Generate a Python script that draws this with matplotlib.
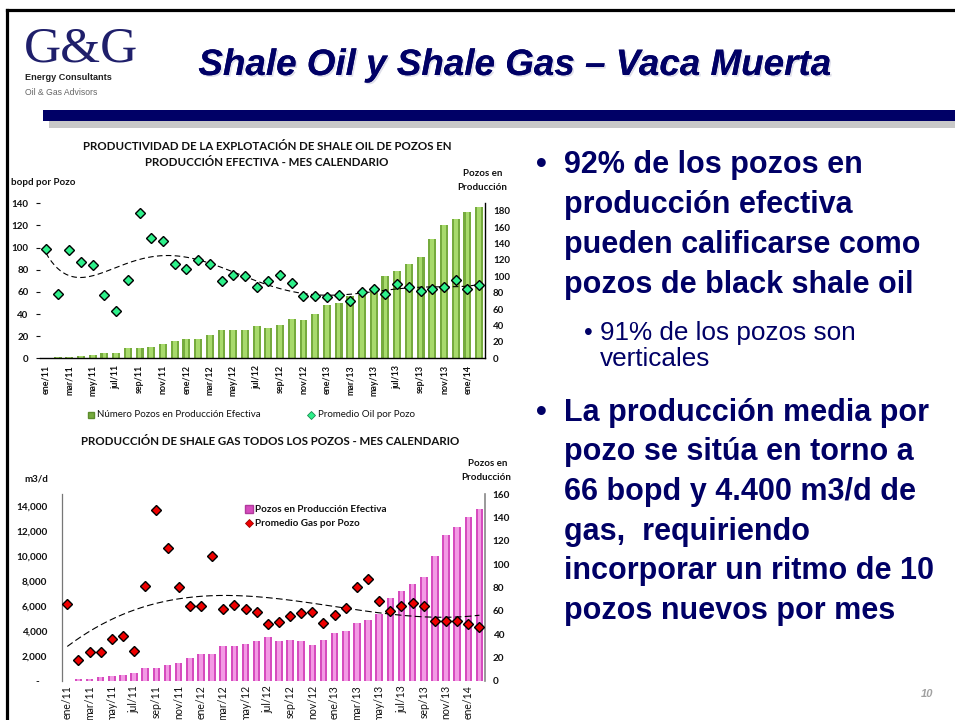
import matplotlib
matplotlib.use('Agg')
import matplotlib.pyplot as plt
import numpy as np
from matplotlib.lines import Line2D
from matplotlib.patches import Rectangle
import matplotlib.patheffects as pe
from matplotlib.ticker import FuncFormatter

# ---------------- data ----------------
months = ['ene/11', 'feb/11', 'mar/11', 'abr/11', 'may/11', 'jun/11', 'jul/11', 'ago/11',
          'sep/11', 'oct/11', 'nov/11', 'dic/11', 'ene/12', 'feb/12', 'mar/12', 'abr/12',
          'may/12', 'jun/12', 'jul/12', 'ago/12', 'sep/12', 'oct/12', 'nov/12', 'dic/12',
          'ene/13', 'feb/13', 'mar/13', 'abr/13', 'may/13', 'jun/13', 'jul/13', 'ago/13',
          'sep/13', 'oct/13', 'nov/13', 'dic/13', 'ene/14', 'feb/14']

oil_wells = [0, 2, 2, 3, 4, 6, 7, 13, 13, 14, 17, 21, 24, 24, 28, 34, 34, 34, 39, 37,
             41, 48, 47, 54, 65, 67, 76, 77, 84, 100, 106, 115, 123, 145, 163, 170, 178, 184]
oil_avg = [99, 58, 98, 87, 84, 57, 43, 71, 131, 109, 106, 85, 81, 89, 85, 70, 75, 74, 64, 70,
           75, 68, 56, 56, 55, 57, 52, 60, 63, 58, 67, 64, 61, 63, 64, 71, 63, 66]

gas_wells = [0, 2, 2, 3, 4, 5, 7, 11, 11, 14, 15, 20, 23, 23, 30, 30, 32, 34, 38, 34,
             35, 34, 31, 35, 41, 43, 50, 52, 57, 71, 77, 83, 89, 107, 125, 132, 140, 147]
gas_avg = [6200, 1650, 2300, 2300, 3330, 3600, 2430, 7600, 13700, 10700, 7550, 6000, 6000,
           10000, 5760, 6080, 5810, 5520, 4560, 4770, 5230, 5490, 5520, 4670, 5280, 5840,
           7550, 8210, 6400, 5600, 6030, 6290, 6050, 4830, 4800, 4830, 4610, 4320]

tick_labels = months[::2]

# ---------------- helpers ----------------
W, H = 955, 720
def fx(x):
    return x / W
def fy(y):
    return 1 - y / H

NAVY = '#000066'
CH = 'Lato'
TXT = '#111111'

fig = plt.figure(figsize=(9.55, 7.2), dpi=100)
fig.patch.set_facecolor('white')

# slide frame
fig.add_artist(Line2D([fx(7), fx(955)], [fy(9.5), fy(9.5)], color='black', lw=2.3,
                      transform=fig.transFigure))
fig.add_artist(Line2D([fx(7), fx(7)], [fy(9.5), fy(720)], color='black', lw=2.3,
                      transform=fig.transFigure))

# header bars
fig.add_artist(Rectangle((fx(49), fy(128)), fx(955) - fx(49), 7 / H, color='#c8c8c8',
                         transform=fig.transFigure, lw=0))
fig.add_artist(Rectangle((fx(43), fy(121)), fx(955) - fx(43), 11 / H, color=NAVY,
                         transform=fig.transFigure, lw=0))

# logo
fig.text(fx(24), fy(62), 'G&G', family='Liberation Serif', fontsize=37, color='#1f1f6b',
         va='baseline', ha='left')
fig.text(fx(25), fy(80), 'Energy Consultants', family='Liberation Sans', fontsize=6.6,
         color='#222222', fontweight='bold', va='baseline', ha='left')
fig.text(fx(25), fy(95), 'Oil & Gas Advisors', family='Liberation Sans', fontsize=6.2,
         color='#666666', va='baseline', ha='left')

# title
fig.text(fx(515), fy(75), 'Shale Oil y Shale Gas \u2013 Vaca Muerta', family='Liberation Sans',
         fontsize=26.5, fontweight='bold', fontstyle='italic', color=NAVY, ha='center',
         va='baseline',
         path_effects=[pe.withSimplePatchShadow(offset=(1.2, -1.2), shadow_rgbFace='#9999bb',
                                                alpha=0.3), pe.Normal()])

# right-hand bullet text
b1 = ['92% de los pozos en', 'producción efectiva', 'pueden calificarse como',
      'pozos de black shale oil']
for i, line in enumerate(b1):
    fig.text(fx(564), fy(173 + 40 * i), line, family='Liberation Sans', fontsize=22,
             fontweight='bold', color=NAVY, va='baseline', ha='left')
fig.text(fx(536), fy(173), '\u2022', family='Liberation Sans', fontsize=22, fontweight='bold',
         color=NAVY, va='baseline', ha='left')

fig.text(fx(584), fy(340), '\u2022', family='Liberation Sans', fontsize=18, color=NAVY,
         va='baseline', ha='left')
fig.text(fx(600), fy(340), '91% de los pozos son', family='Liberation Sans', fontsize=18.8,
         color=NAVY, va='baseline', ha='left')
fig.text(fx(600), fy(366), 'verticales', family='Liberation Sans', fontsize=18.8,
         color=NAVY, va='baseline', ha='left')

b2 = ['La producción media por', 'pozo se sitúa en torno a', '66 bopd y 4.400 m3/d de',
      'gas,  requiriendo', 'incorporar un ritmo de 10', 'pozos nuevos por mes']
for i, line in enumerate(b2):
    fig.text(fx(564), fy(420.7 + 39.7 * i), line, family='Liberation Sans', fontsize=22,
             fontweight='bold', color=NAVY, va='baseline', ha='left')
fig.text(fx(536), fy(420.7), '\u2022', family='Liberation Sans', fontsize=22,
         fontweight='bold', color=NAVY, va='baseline', ha='left')

fig.text(fx(921), fy(697), '10', family='Liberation Sans', fontsize=8, fontstyle='italic',
         fontweight='bold', color='#a0a0a0', va='baseline', ha='left')

x = np.arange(len(months))
xx = np.linspace(0, len(months) - 1, 300)

# ---------------- top chart ----------------
ax1 = fig.add_axes([fx(40), fy(358.3), (485 - 40) / W, (358.3 - 203.3) / H])
ax1r = ax1.twinx()
ax1r.bar(x, oil_wells, width=0.68, color='#76ab3e', zorder=2)
ax1r.bar(x, oil_wells, width=0.32, color='#a8da6c', zorder=3)
ax1.plot(x, oil_avg, ls='none', marker='D', ms=5.6, mfc='#2ef08a', mec='black', mew=1.0,
         zorder=5)
p1 = np.polynomial.Polynomial.fit(x, oil_avg, 6)
ax1.plot(xx, p1(xx), color='black', ls=(0, (5, 3)), lw=0.8, zorder=4)

ax1.set_zorder(ax1r.get_zorder() + 1)
ax1.patch.set_visible(False)
ax1.set_xlim(-0.5, len(months) - 0.5)
ax1.set_ylim(0, 140)
ax1r.set_ylim(0, 189)
ax1.set_yticks(range(0, 141, 20))
ax1r.set_yticks(range(0, 181, 20))
ax1.set_xticks(x[::2])
ax1.set_xticklabels(tick_labels, rotation=90, fontsize=6.4, fontweight='bold', family=CH,
                    color=TXT)
ax1.tick_params(axis='x', length=0, pad=4.8)
ax1.tick_params(axis='y', length=3, width=0.8, pad=5.2, labelsize=7, colors=TXT)
ax1r.tick_params(axis='y', length=0, pad=5.8, labelsize=7, colors=TXT)
for lbl in ax1.get_yticklabels() + ax1r.get_yticklabels():
    lbl.set_fontweight('bold')
    lbl.set_family(CH)
for s in ['left', 'top', 'right']:
    ax1.spines[s].set_visible(False)
ax1.spines['bottom'].set_linewidth(1.0)
for s in ['left', 'top', 'bottom']:
    ax1r.spines[s].set_visible(False)
ax1r.spines['right'].set_linewidth(1.0)

fig.text(fx(267), fy(146), 'PRODUCTIVIDAD DE LA EXPLOTACIÓN DE SHALE OIL DE POZOS EN',
         family=CH, fontsize=8.3, fontweight='bold', color=TXT, ha='center', va='center')
fig.text(fx(267), fy(163), 'PRODUCCIÓN EFECTIVA - MES CALENDARIO', family=CH, fontsize=8.3,
         fontweight='bold', color=TXT, ha='center', va='center')
fig.text(fx(11), fy(182.5), 'bopd por Pozo', family=CH, fontsize=7, fontweight='bold',
         color=TXT, ha='left', va='center')
fig.text(fx(483), fy(174), 'Pozos en', family=CH, fontsize=7, fontweight='bold', color=TXT,
         ha='center', va='center')
fig.text(fx(482), fy(187.5), 'Producción', family=CH, fontsize=7, fontweight='bold',
         color=TXT, ha='center', va='center')

# top legend
fig.add_artist(Line2D([fx(91)], [fy(415)], marker='s', ms=5, mfc='#76ab3e', mec='#5c8c2c',
                      ls='none', transform=fig.transFigure))
fig.text(fx(97), fy(415), 'Número Pozos en Producción Efectiva', family=CH, fontsize=7,
         color=TXT, ha='left', va='center')
fig.add_artist(Line2D([fx(311)], [fy(415)], marker='D', ms=4.5, mfc='#2ef08a', mec='#1a8a50',
                      mew=0.6, ls='none', transform=fig.transFigure))
fig.text(fx(318), fy(415), 'Promedio Oil por Pozo', family=CH, fontsize=7, color=TXT,
         ha='left', va='center')

# ---------------- bottom chart ----------------
ax2 = fig.add_axes([fx(61.7), fy(681), (485 - 61.7) / W, (681 - 494) / H])
ax2r = ax2.twinx()
ax2r.bar(x, gas_wells, width=0.68, color='#d64cbe', zorder=2)
ax2r.bar(x, gas_wells, width=0.32, color='#f39ae4', zorder=3)
ax2.plot(x, gas_avg, ls='none', marker='D', ms=5.6, mfc='#ee0000', mec='black', mew=1.0,
         zorder=5)
p2 = np.polynomial.Polynomial.fit(x, gas_avg, 3)
ax2.plot(xx, p2(xx), color='black', ls=(0, (6, 3)), lw=0.8, zorder=4)

ax2.set_zorder(ax2r.get_zorder() + 1)
ax2.patch.set_visible(False)
ax2.set_xlim(-0.5, len(months) - 0.5)
ax2.set_ylim(0, 15000)
ax2r.set_ylim(0, 160)
ax2.set_yticks(range(0, 14001, 2000))
ax2r.set_yticks(range(0, 161, 20))
ax2.yaxis.set_major_formatter(FuncFormatter(lambda v, p: '-   ' if v == 0 else f'{v:,.0f}'))
ax2.set_xticks(x[::2])
ax2.set_xticklabels(tick_labels, rotation=90, fontsize=7.6, family=CH, color=TXT)
ax2.tick_params(axis='x', length=0, pad=3)
ax2.tick_params(axis='y', length=0, pad=10.5, labelsize=7.2, colors=TXT)
ax2r.tick_params(axis='y', length=0, pad=5.5, labelsize=7.2, colors=TXT)
for lbl in ax2.get_yticklabels() + ax2r.get_yticklabels():
    lbl.set_fontweight('bold')
    lbl.set_family(CH)
for s in ['top', 'right', 'bottom']:
    ax2.spines[s].set_visible(False)
ax2.spines['left'].set_color('#777777')
ax2.spines['left'].set_linewidth(0.9)
for s in ['left', 'top', 'bottom']:
    ax2r.spines[s].set_visible(False)
ax2r.spines['right'].set_color('#888888')
ax2r.spines['right'].set_linewidth(1.2)

fig.text(fx(270), fy(441), 'PRODUCCIÓN DE SHALE GAS TODOS LOS POZOS - MES CALENDARIO',
         family=CH, fontsize=8.3, fontweight='bold', color=TXT, ha='center', va='center')
fig.text(fx(24), fy(479), 'm3/d', family=CH, fontsize=7, fontweight='bold', color=TXT,
         ha='left', va='center')
fig.text(fx(488), fy(463), 'Pozos en', family=CH, fontsize=7, fontweight='bold', color=TXT,
         ha='center', va='center')
fig.text(fx(486), fy(477), 'Producción', family=CH, fontsize=7, fontweight='bold',
         color=TXT, ha='center', va='center')

# bottom legend
fig.add_artist(Line2D([fx(249)], [fy(509)], marker='s', ms=5.5, mfc='#d64cbe', mec='#b03a9c',
                      ls='none', transform=fig.transFigure))
fig.text(fx(255), fy(509), 'Pozos en Producción Efectiva', family=CH, fontsize=7.2,
         fontweight='bold', color=TXT, ha='left', va='center')
fig.add_artist(Line2D([fx(249)], [fy(523)], marker='D', ms=4.5, mfc='#ee0000', mec='#990000',
                      mew=0.6, ls='none', transform=fig.transFigure))
fig.text(fx(255), fy(523), 'Promedio Gas por Pozo', family=CH, fontsize=7.2,
         fontweight='bold', color=TXT, ha='left', va='center')

fig.savefig('out.png', dpi=100, facecolor='white')
